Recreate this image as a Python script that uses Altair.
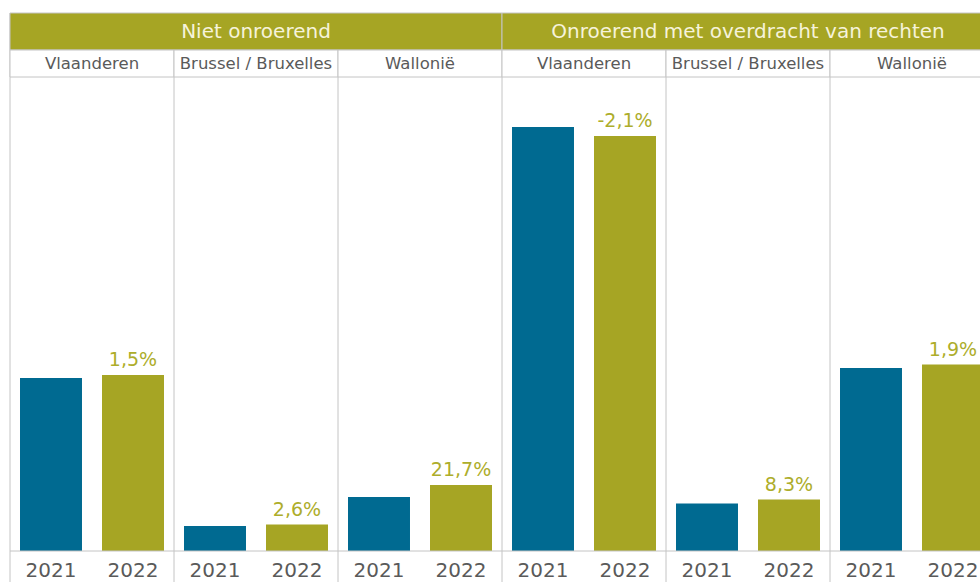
import altair as alt
import pandas as pd

# ---- data ----
categories = ["Niet onroerend", "Onroerend met overdracht van rechten"]
regions = ["Vlaanderen", "Brussel / Bruxelles", "Wallonië"]
years = ["2021", "2022"]
values_2021 = [173, 25, 54, 424, 47.5, 183]
values_2022 = [176, 26.5, 66, 415, 51.5, 186.5]
change_2022 = ["1,5%", "2,6%", "21,7%", "-2,1%", "8,3%", "1,9%"]

# ---- styling ----
FONT = "DejaVu Sans"
BLUE = "#006a91"
OLIVE = "#a6a524"
LABEL = "#adad2b"
CREAM = "#f6f3da"
GREY_TXT = "#5a5a5a"
LINE = "#c4c4c4"
VIEW_W = 970      # visible part of the plot (the last panel is cut off)
FULL_W = 984      # full width spanned by the six panels
VIEW_H = 569
HEAD1 = 37        # category band height
HEAD2 = 64        # bottom of the region row
BASE = 538        # bar baseline

# ---- tables ----
rows = []
panels = []
i = 0
for c in categories:
    for r in regions:
        panel = f"{c}|{r}"
        panels.append(panel)
        for y, vals in zip(years, [values_2021, values_2022]):
            rows.append({
                "category": c, "region": r, "panel": panel, "year": y,
                "slot": f"{panel}|{y}", "value": vals[i],
                "label": change_2022[i] if y == "2022" else "",
            })
        i += 1
df = pd.DataFrame(rows)
slots = list(df["slot"])
panel_df = pd.DataFrame({
    "panel": panels,
    "region": [p.split("|")[1] for p in panels],
})
cat_df = pd.DataFrame({"category": categories})
base_df = pd.DataFrame({"value": [0]})


def band(domain, pad_in=0.0, pad_out=0.0):
    return alt.Scale(type="band", domain=domain, range=[0, FULL_W],
                     paddingInner=pad_in, paddingOuter=pad_out)


def x_slot(pos=None):
    kw = {} if pos is None else {"bandPosition": pos}
    return alt.X("slot:N", sort=slots, scale=band(slots, 0.244, 0.122), axis=None, **kw)


def x_panel(pos=None):
    kw = {} if pos is None else {"bandPosition": pos}
    return alt.X("panel:N", sort=panels, scale=band(panels), axis=None, **kw)


def x_cat(pos=None):
    kw = {} if pos is None else {"bandPosition": pos}
    return alt.X("category:N", sort=categories, scale=band(categories), axis=None, **kw)


yscale = alt.Scale(domain=[0, 474], range=[BASE, HEAD2], nice=False, zero=True)

# panel separators (full height)
sep = alt.Chart(panel_df).mark_rule(color=LINE, strokeWidth=1).encode(x=x_panel(0))

# ---- header rows ----
cat_rect = alt.Chart(cat_df).mark_rect(fill=OLIVE, stroke=LINE, strokeWidth=1).encode(
    x=x_cat(), y=alt.value(0), y2=alt.value(HEAD1)
)
cat_text = alt.Chart(cat_df).mark_text(
    font=FONT, fontSize=20, color=CREAM, baseline="alphabetic", align="center"
).encode(x=x_cat(0.5), y=alt.value(25), text="category:N")
reg_rect = alt.Chart(panel_df).mark_rect(fill="white", stroke=LINE, strokeWidth=1).encode(
    x=x_panel(), y=alt.value(HEAD1), y2=alt.value(HEAD2)
)
reg_text = alt.Chart(panel_df).mark_text(
    font=FONT, fontSize=16.5, color=GREY_TXT, baseline="alphabetic", align="center"
).encode(x=x_panel(0.5), y=alt.value(56), text="region:N")

# ---- bars ----
bars = alt.Chart(df).mark_bar().encode(
    x=x_slot(),
    y=alt.Y("value:Q", scale=yscale, axis=None),
    color=alt.Color("year:N", scale=alt.Scale(domain=years, range=[BLUE, OLIVE]), legend=None),
)
labels = alt.Chart(df).transform_filter("datum.label != ''").mark_text(
    font=FONT, fontSize=19, color=LABEL, baseline="alphabetic", align="center", dy=-9
).encode(x=x_slot(0.5), y=alt.Y("value:Q", scale=yscale, axis=None), text="label:N")
baseline = alt.Chart(base_df).mark_rule(color=LINE, strokeWidth=1).encode(
    y=alt.Y("value:Q", scale=yscale, axis=None)
)

# ---- year labels ----
year_text = alt.Chart(df).mark_text(
    font=FONT, fontSize=20, color=GREY_TXT, baseline="alphabetic", align="center"
).encode(x=x_slot(0.5), y=alt.value(564), text="year:N")

chart = alt.layer(
    sep, cat_rect, cat_text, reg_rect, reg_text, bars, labels, baseline, year_text
).resolve_scale(x="independent").properties(
    width=VIEW_W,
    height=VIEW_H,
    autosize=alt.AutoSizeParams(type="none"),
    padding={"left": 10, "top": 13, "right": 0, "bottom": 0},
    background="white",
).configure_view(stroke=None)

chart.save("out.html", embed_options={"renderer": "svg", "actions": False})
